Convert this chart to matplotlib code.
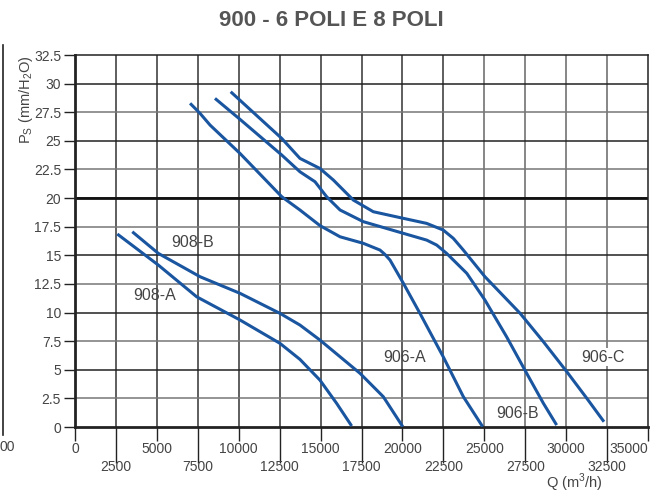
import matplotlib
matplotlib.use("Agg")
import matplotlib.pyplot as plt
from matplotlib.ticker import FixedLocator, FuncFormatter

plt.rcParams["font.family"] = ["Liberation Sans", "DejaVu Sans"]
plt.rcParams["mathtext.fontset"] = "custom"
plt.rcParams["mathtext.rm"] = "Liberation Sans"

# curves: Q (m3/h) vs Ps (mm H2O)
q_908a = [2585, 5090, 7430, 10080, 12520, 13740, 14960, 15980, 16900]
p_908a = [16.86, 14.15, 11.38, 9.35, 7.31, 5.91, 4.1, 2.07, 0.09]

q_908b = [3500, 5090, 7640, 10080, 12520, 13740, 14960, 17410, 18830, 20020]
p_908b = [17.06, 15.17, 13.13, 11.68, 9.93, 8.91, 7.6, 4.69, 2.65, 0.03]

q_906a = [7030, 7640, 8250, 10080, 12630, 13740, 14960, 16190, 17610,
          18630, 18930, 19240, 20060, 21070, 22490, 23720, 24900]
p_906a = [28.28, 27.4, 26.38, 23.9, 20.12, 18.96, 17.6, 16.62, 16.05,
          15.46, 15.08, 14.59, 12.55, 9.93, 6.14, 2.65, 0.03]

q_906b = [8550, 10080, 12630, 13740, 14660, 15370, 16190, 17610, 20060,
          21480, 22090, 22700, 23930, 25040, 26360, 27590, 28610, 29420]
p_906b = [28.71, 26.88, 23.76, 22.3, 21.43, 20.12, 18.96, 17.94, 16.92,
          16.33, 15.9, 15.17, 13.43, 11.09, 7.89, 4.69, 2.07, 0.17]

q_906c = [9510, 12630, 13740, 14960, 15780, 17000, 18220, 20060, 21480,
          22490, 23110, 23720, 25040, 27190, 28610, 30040, 31260, 32310]
p_906c = [29.29, 25.21, 23.47, 22.59, 21.58, 19.83, 18.81, 18.23, 17.79,
          17.21, 16.48, 15.46, 13.13, 9.93, 7.45, 4.83, 2.51, 0.46]

labels = ["908-B", "908-A", "906-A", "906-B", "906-C"]
label_q = [7210, 4890, 20100, 27060, 32250]
label_p = [16.1, 11.5, 6.1, 1.2, 6.1]

BLUE = "#1a55a0"
TXT = "#444444"

fig = plt.figure(figsize=(6.63, 4.97), dpi=100)
ax = fig.add_axes([0.1131, 0.1408, 0.8643, 0.7485])
ax.set_xlim(0, 35000)
ax.set_ylim(0, 32.5)

# staggered x labels: multiples of 5000 on first row, odd 2500s below
ax.xaxis.set_major_locator(FixedLocator(list(range(0, 35001, 5000))))
ax.xaxis.set_minor_locator(FixedLocator(list(range(2500, 35000, 5000))))
ax.xaxis.set_major_formatter(FuncFormatter(lambda v, p: f"{int(v)}"))
ax.xaxis.set_minor_formatter(FuncFormatter(lambda v, p: f"{int(v)}"))
ax.tick_params(axis="x", which="major", length=10, width=1, color="#222",
               labelsize=10, labelcolor=TXT, pad=1)
ax.tick_params(axis="x", which="minor", length=26, width=1, color="#222",
               labelsize=10, labelcolor=TXT, pad=-2)
ax.get_xticklabels()[-1].set_ha("right")
ax.get_xticklabels()[-1].set_x(34800)
ax.set_yticks([i * 2.5 for i in range(14)])
ax.yaxis.set_major_formatter(FuncFormatter(lambda v, p: f"{v:g}"))
ax.tick_params(axis="y", length=8, width=1, color="#222",
               labelsize=10, labelcolor=TXT, pad=2)

for v in range(2500, 35000, 2500):
    ax.axvline(v, color="#333" if v < 25000 else "#666", lw=1.1, zorder=1)
for i in range(1, 13):
    y = i * 2.5
    ax.axhline(y, color="#222" if i % 2 == 0 else "#777", lw=1.1, zorder=1)
ax.axhline(20, color="#111", lw=2.0, zorder=1)
for s in ax.spines.values():
    s.set_color("#222")
    s.set_linewidth(1.1)
ax.spines["bottom"].set_linewidth(2.0)
ax.spines["left"].set_linewidth(2.0)

for q, p in [(q_908a, p_908a), (q_908b, p_908b), (q_906a, p_906a),
             (q_906b, p_906b), (q_906c, p_906c)]:
    ax.plot(q, p, color=BLUE, lw=2.2, solid_capstyle="butt",
            solid_joinstyle="round", zorder=3)

for t, q, p in zip(labels, label_q, label_p):
    kw = {}
    if t == "906-C":
        kw["bbox"] = dict(facecolor="white", edgecolor="none", pad=1)
    ax.text(q, p, t, ha="center", va="center", fontsize=11.5, color=TXT,
            zorder=4, **kw)

ax.set_ylabel(r"P$_\mathrm{S}$ (mm/H$_2$O)", fontsize=10.5, color=TXT)
ax.yaxis.set_label_coords(-0.07, 0.88)
fig.text(0.867, 0.006, r"Q (m$^3$/h)", fontsize=10.5, color=TXT,
         ha="center", va="bottom")

fig.text(0.5, 0.958, "900 - 6 POLI E 8 POLI", ha="center", va="center",
         fontsize=16, fontweight="bold", color="#555555")

# cut-off neighbouring chart at the left edge
fig.add_artist(plt.Line2D([0.005, 0.005], [0.125, 0.91], color="#222",
                          lw=1.2, transform=fig.transFigure))
fig.text(0.0, 0.1, "00", fontsize=10, color=TXT, ha="left", va="center")

fig.savefig("out.png", dpi=100)
